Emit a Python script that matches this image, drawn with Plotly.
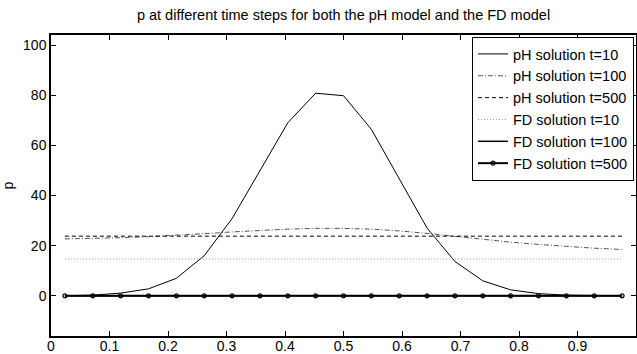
import plotly.graph_objects as go

# grid positions (cell centres)
x = [0.0238, 0.0714, 0.1190, 0.1667, 0.2143, 0.2619, 0.3095, 0.3571, 0.4048, 0.4524,
     0.5000, 0.5476, 0.5952, 0.6429, 0.6905, 0.7381, 0.7857, 0.8333, 0.8810, 0.9286, 0.9762]

ph_t10 = [0.05, 0.3, 1.1, 2.8, 7.0, 16.0, 30.8, 50.0, 69.0, 80.8,
          79.8, 66.4, 47.0, 27.0, 13.7, 6.0, 2.4, 0.9, 0.3, 0.05, 0.0]
ph_t100 = [22.7, 22.9, 23.2, 23.6, 24.1, 24.8, 25.5, 26.1, 26.6, 26.9,
           26.9, 26.6, 25.9, 24.9, 23.7, 22.5, 21.4, 20.5, 19.6, 19.0, 18.5]
ph_t500 = [23.8] * 21
fd_t10 = [14.7] * 21
fd_t100 = [0.0] * 21
fd_t500 = [0.0] * 21

names = ["pH solution t=10", "pH solution t=100", "pH solution t=500",
         "FD solution t=10", "FD solution t=100", "FD solution t=500"]

title_text = "p at different time steps for both the pH model and the FD model"
x_ticks = [0, 0.1, 0.2, 0.3, 0.4, 0.5, 0.6, 0.7, 0.8, 0.9, 1]
y_ticks = [0, 20, 40, 60, 80, 100]

FONT = "Liberation Sans, Arial, Helvetica, sans-serif"

fig = go.Figure()
fig.add_trace(go.Scatter(x=x, y=ph_t10, name=names[0], mode="lines",
                         line=dict(color="black", width=1)))
fig.add_trace(go.Scatter(x=x, y=ph_t100, name=names[1], mode="lines",
                         line=dict(color="#555", width=1, dash="5px,2px,1px,2px")))
fig.add_trace(go.Scatter(x=x, y=ph_t500, name=names[2], mode="lines",
                         line=dict(color="black", width=1, dash="4px,3px")))
fig.add_trace(go.Scatter(x=x, y=fd_t10, name=names[3], mode="lines",
                         line=dict(color="#999", width=1, dash="1px,2px")))
fig.add_trace(go.Scatter(x=x, y=fd_t100, name=names[4], mode="lines",
                         line=dict(color="black", width=1.5)))
fig.add_trace(go.Scatter(x=x, y=fd_t500, name=names[5], mode="lines+markers",
                         line=dict(color="black", width=2),
                         marker=dict(symbol="circle-open", size=4, color="black",
                                     line=dict(width=1.2, color="black"))))

axis_common = dict(showline=True, linecolor="black", linewidth=1.5, mirror="ticks",
                   ticks="inside", ticklen=5, tickcolor="black", showgrid=False,
                   zeroline=False, automargin=False,
                   tickfont=dict(family=FONT, size=14, color="black"))

fig.update_layout(
    template="none",
    width=637, height=354,
    margin=dict(l=51, r=1, t=35, b=18),
    paper_bgcolor="white", plot_bgcolor="white",
    title=dict(text=title_text, x=(51 + 636) / 2 / 637, xanchor="center",
               y=1 - 15 / 354, yanchor="middle",
               font=dict(family=FONT, size=14.5, color="black")),
    xaxis=dict(range=[0, 1], tickvals=x_ticks,
               ticktext=[("%g" % v) for v in x_ticks], ticklabelstandoff=-4,
               **axis_common),
    yaxis=dict(range=[-16, 104], tickvals=y_ticks,
               title=dict(text="p", font=dict(family=FONT, size=14, color="black")),
               **axis_common),
    legend=dict(x=0.9966, y=0.9934, xanchor="right", yanchor="top",
                bgcolor="white", bordercolor="black", borderwidth=1,
                font=dict(family=FONT, size=14.5, color="black"),
                itemwidth=30, tracegroupgap=0),
    showlegend=True,
)

fig.write_html("out.html",
               config={"displayModeBar": False},
               post_script="document.body.style.margin='0';document.body.style.padding='0';")
